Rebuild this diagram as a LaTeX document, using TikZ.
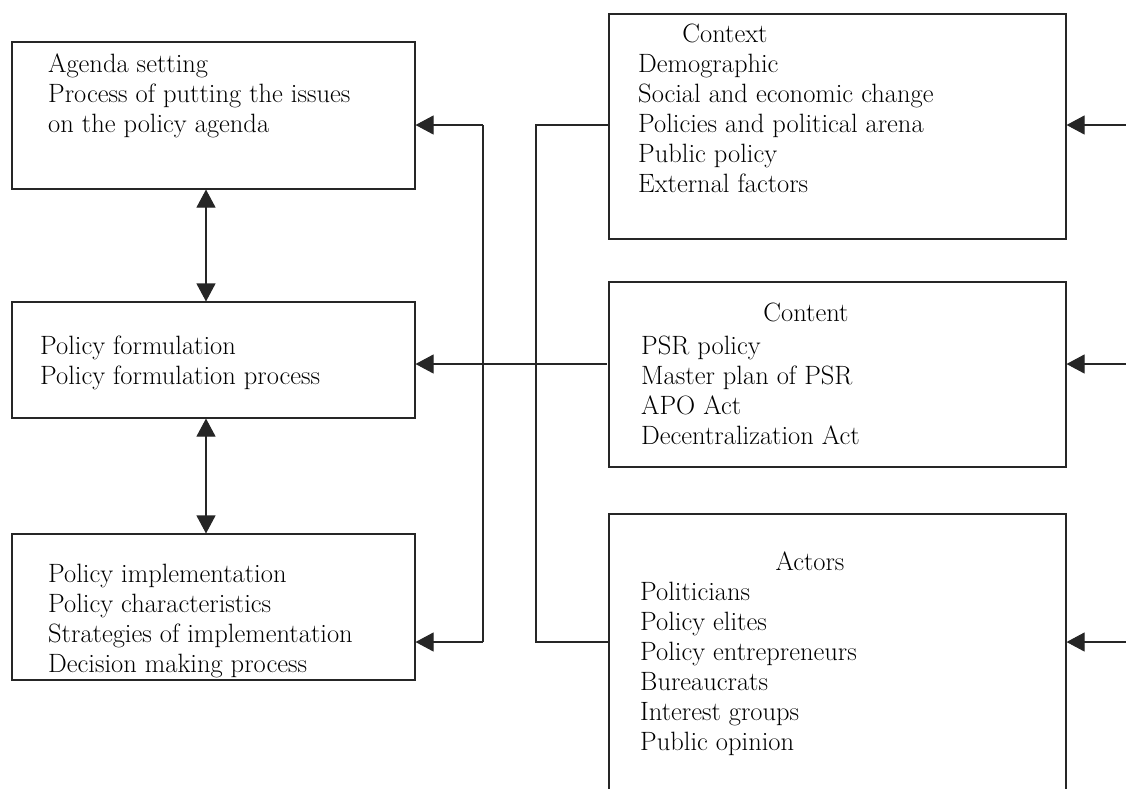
\documentclass[tikz,border=0pt]{standalone}
\usepackage{tikz}
\usetikzlibrary{arrows.meta}

\tikzset{
  box/.style={draw=black!85, line width=1.1pt, inner sep=0pt},
  txt/.style={anchor=north west, align=left, inner sep=0pt, font=\fontsize{26.5}{30}\selectfont},
  ttl/.style={anchor=north, inner sep=0pt, font=\fontsize{26.5}{30}\selectfont},
  wire/.style={draw=black!85, line width=1.1pt},
  tip/.style={wire, -{Triangle[length=18pt,width=19pt]}},
  tips/.style={wire, {Triangle[length=18pt,width=19pt]}-{Triangle[length=18pt,width=19pt]}},
}

\begin{document}
\begin{tikzpicture}[x=1pt,y=-1pt]
  \clip (0,0) rectangle (1126,788);
  % stages of the policy process
  \draw (213.5,115.5) node[box, minimum width=403pt, minimum height=147pt] (agenda) {};
  \draw (213.5,360) node[box, minimum width=403pt, minimum height=116pt] (formul) {};
  \draw (213.5,607) node[box, minimum width=403pt, minimum height=146pt] (impl) {};
  \draw (48,54) node[txt] (agendatxt) {Agenda setting\\Process of putting the issues\\on the policy agenda};
  \draw (40,336) node[txt] (formultxt) {Policy formulation\\Policy formulation process};
  \draw (48,564) node[txt] (impltxt) {Policy implementation\\Policy characteristics\\Strategies of implementation\\Decision making process};
  % context, content, actors
  \draw (837.5,126.5) node[box, minimum width=457pt, minimum height=225pt] (context) {};
  \draw (837.5,374.5) node[box, minimum width=457pt, minimum height=185pt] (content) {};
  \draw (837.5,657) node[box, minimum width=457pt, minimum height=286pt] (actors) {};
  \draw (725,24) node[ttl] (contexttl) {Context};
  \draw (638,54) node[txt] (contexttxt) {Demographic\\Social and economic change\\Policies and political arena\\Public policy\\External factors};
  \draw (806,303) node[ttl] (contenttl) {Content};
  \draw (641,336) node[txt] (contenttxt) {PSR policy\\Master plan of PSR\\APO Act\\Decentralization Act};
  \draw (810,552) node[ttl] (actorstl) {Actors};
  \draw (640,582) node[txt] (actorstxt) {Politicians\\Policy elites\\Policy entrepreneurs\\Bureaucrats\\Interest groups\\Public opinion};
  % links
  \path ([xshift=-7.5pt]agenda.south) edge[tips] ([xshift=-7.5pt]formul.north);
  \path ([xshift=-7.5pt]formul.south) edge[tips] ([xshift=-7.5pt]impl.north);
  \coordinate (lt) at (483,125);
  \coordinate (lb) at (483,642);
  \coordinate (rt) at (536,125);
  \coordinate (rb) at (536,642);
  \coordinate (mid) at (607,364);
  \draw[wire] (lt) -- (lb);
  \path (lt) edge[tip] (agenda.east |- lt);
  \path (lb) edge[tip] (impl.east |- lb);
  \draw[wire] (context.west |- rt) -- (rt) -- (rb) -- (actors.west |- rb);
  \path (mid) edge[tip] (formul.east |- mid);
  \coordinate (ctxin) at (1126,125);
  \coordinate (cntin) at (1126,364);
  \coordinate (actin) at (1126,642);
  \path (ctxin) edge[tip] (context.east |- ctxin);
  \path (cntin) edge[tip] (content.east |- cntin);
  \path (actin) edge[tip] (actors.east |- actin);
\end{tikzpicture}
\end{document}
